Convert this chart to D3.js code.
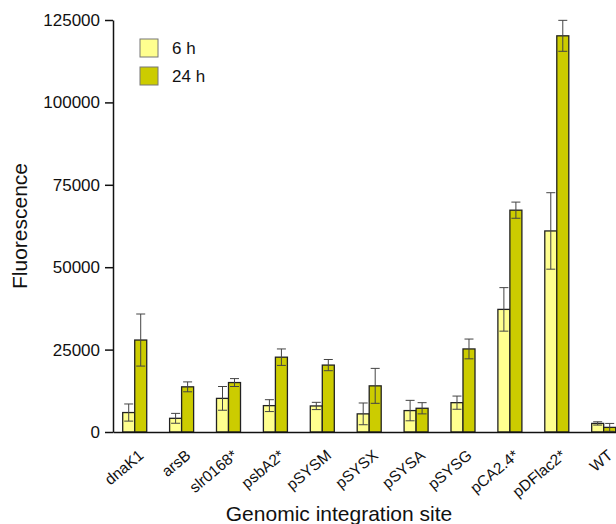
<!DOCTYPE html>
<html>
<head>
<meta charset="utf-8">
<script src="https://cdn.jsdelivr.net/npm/d3@7"></script>
<style>
  body { margin: 0; background: #fff; }
  svg text { font-family: "Liberation Sans", Arial, sans-serif; fill: #111; }
</style>
</head>
<body>
<div id="chart"></div>
<script>
// values
const sites = ["dnaK1", "arsB", "slr0168*", "psbA2*", "pSYSM", "pSYSX", "pSYSA", "pSYSG", "pCA2.4*", "pDFlac2*", "WT"];
const series = ["6 h", "24 h"];
const mean6 = [5900, 4150, 10200, 8000, 7900, 5500, 6500, 8900, 37200, 61000, 2600];
const err6 = [2600, 1500, 3600, 1800, 1100, 3300, 3100, 2000, 6600, 11600, 500];
const mean24 = [27900, 13700, 15000, 22700, 20300, 14000, 7200, 25200, 67300, 120200, 1400];
const err24 = [7900, 1500, 1200, 2500, 1700, 5300, 1700, 3000, 2450, 4700, 1200];
const yTicks = [0, 25000, 50000, 75000, 100000, 125000];

const colors = {"6 h": "#ffff8f", "24 h": "#cccc00"};

const width = 616;
const height = 524;
const margin = {top: 20, left: 113, bottom: 92};

// one row per bar
let rows = [];
sites.forEach(function(s, i) {
    rows.push({site: s, series: "6 h", value: mean6[i], err: err6[i]});
    rows.push({site: s, series: "24 h", value: mean24[i], err: err24[i]});
});

const svg = d3.select("#chart")
    .append("svg")
    .attr("width", width)
    .attr("height", height);

const x0 = d3.scaleBand()
    .domain(sites)
    .range([margin.left, 625.4])
    .paddingInner(0.488)
    .paddingOuter(0.207);

const x1 = d3.scaleBand()
    .domain(series)
    .range([0, x0.bandwidth()]);

const y = d3.scaleLinear()
    .domain([0, 125000])
    .range([height - margin.bottom, margin.top]);

// bars
svg.selectAll("rect.bar")
    .data(rows)
    .enter()
    .append("rect")
        .attr("class", "bar")
        .attr("x", function(d) { return x0(d.site) + x1(d.series); })
        .attr("y", function(d) { return y(d.value); })
        .attr("width", x1.bandwidth())
        .attr("height", function(d) { return y(0) - y(d.value); })
        .attr("fill", function(d) { return colors[d.series]; })
        .attr("stroke", "#222")
        .attr("stroke-width", 1.3);

// error bars
const eb = svg.selectAll("g.err")
    .data(rows)
    .enter()
    .append("g")
        .attr("class", "err")
        .attr("stroke", "#444")
        .attr("stroke-width", 1);

const cx = function(d) { return x0(d.site) + x1(d.series) + x1.bandwidth() / 2; };

eb.append("line")
    .attr("x1", cx).attr("x2", cx)
    .attr("y1", function(d) { return y(d.value + d.err); })
    .attr("y2", function(d) { return y(Math.max(0, d.value - d.err)); });

eb.append("line")
    .attr("x1", function(d) { return cx(d) - 4.5; })
    .attr("x2", function(d) { return cx(d) + 4.5; })
    .attr("y1", function(d) { return y(d.value + d.err); })
    .attr("y2", function(d) { return y(d.value + d.err); });

eb.append("line")
    .attr("x1", function(d) { return cx(d) - 4.5; })
    .attr("x2", function(d) { return cx(d) + 4.5; })
    .attr("y1", function(d) { return y(Math.max(0, d.value - d.err)); })
    .attr("y2", function(d) { return y(Math.max(0, d.value - d.err)); });

// y axis
const yAxis = svg.append("g")
    .attr("transform", `translate(${margin.left},0)`)
    .call(d3.axisLeft(y).tickValues(yTicks).tickFormat(d3.format("d")).tickSize(8).tickPadding(5).tickSizeOuter(0));
yAxis.selectAll("path, line").attr("stroke", "#111").attr("stroke-width", 1.5);
yAxis.selectAll("text").style("font-size", "17px").style("font-family", "'Liberation Sans', Arial, sans-serif");

// x axis
const xAxis = svg.append("g")
    .attr("transform", `translate(0,${y(0)})`)
    .call(d3.axisBottom(x0).tickSize(0).tickSizeOuter(0));
xAxis.select("path").attr("stroke", "#111").attr("stroke-width", 1.5);
xAxis.selectAll("text")
    .style("font-size", "15.5px")
    .style("font-family", "'Liberation Sans', Arial, sans-serif")
    .style("text-anchor", "end")
    .attr("dy", null)
    .attr("y", 0)
    .attr("transform", "translate(10,25) rotate(-40)");

// axis titles
svg.append("text")
    .attr("x", 339)
    .attr("y", 521)
    .style("text-anchor", "middle")
    .style("font-size", "21px")
    .text("Genomic integration site");

svg.append("text")
    .attr("transform", "translate(27,226) rotate(-90)")
    .style("text-anchor", "middle")
    .style("font-size", "21px")
    .text("Fluorescence");

// legend
const legend = svg.selectAll("g.legend")
    .data(series)
    .enter()
    .append("g")
        .attr("class", "legend")
        .attr("transform", function(d, i) { return `translate(140,${39 + i * 28})`; });

legend.append("rect")
    .attr("width", 18)
    .attr("height", 18)
    .attr("fill", function(d) { return colors[d]; })
    .attr("stroke", "#777")
    .attr("stroke-width", 1);

legend.append("text")
    .attr("x", 32)
    .attr("y", 15)
    .style("font-size", "17px")
    .text(function(d) { return d; });
</script>
</body>
</html>
